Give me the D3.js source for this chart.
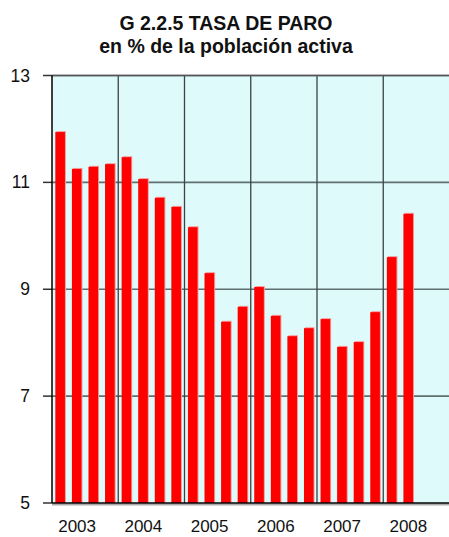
<!DOCTYPE html>
<html>
<head>
	<script src="https://cdn.jsdelivr.net/npm/d3@7"></script>
	<style>
		html, body {
			padding: 0;
			margin: 0;
			background: #fff;
		}
		text { font-family: Arial, "Liberation Sans", sans-serif; }
	</style>
</head>
<body>
	<script>
		var width = 449, height = 537;

		// quarterly unemployment rate, 2003Q1 .. 2008Q2
		var years = ['2003', '2004', '2005', '2006', '2007', '2008'];
		var quarters = ['I', 'II', 'III', 'IV'];
		var values = [11.96, 11.27, 11.31, 11.36,
			11.49, 11.08, 10.73, 10.56,
			10.18, 9.32, 8.41, 8.69,
			9.06, 8.52, 8.14, 8.29,
			8.46, 7.94, 8.03, 8.59,
			9.62, 10.43];
		var yTicks = [5, 7, 9, 11, 13];
		var titleLines = ['G 2.2.5 TASA DE PARO', 'en % de la población activa'];

		var slots = [];
		years.forEach(function(yr) {
			quarters.forEach(function(q) { slots.push(yr + '-' + q); });
		});

		// plot area (note: "top" is reserved on window)
		var pLeft = 52, pRight = 449.5, pTop = 75.5, pBottom = 503;

		var svg = d3.select('body').append('svg')
			.attr('width', width)
			.attr('height', height);

		var x = d3.scaleBand().domain(slots).range([pLeft, pRight]).paddingInner(0.42).paddingOuter(0.2);
		var xYear = d3.scaleBand().domain(years).range([pLeft, pRight]);
		var y = d3.scaleLinear().domain([5, 13]).range([pBottom, pTop]);

		// plot background
		svg.append('rect')
			.attr('x', pLeft).attr('y', pTop)
			.attr('width', pRight - pLeft).attr('height', pBottom - pTop)
			.attr('fill', '#dffafb');

		// horizontal grid + tick marks
		svg.selectAll('.hgrid')
			.data(yTicks.filter(function(d) { return d > 5; }))
			.enter().append('line')
			.attr('x1', pLeft).attr('x2', pRight)
			.attr('y1', function(d) { return y(d); })
			.attr('y2', function(d) { return y(d); })
			.attr('stroke', '#5f6f6f')
			.attr('stroke-width', 1.6);

		svg.selectAll('.tick')
			.data(yTicks)
			.enter().append('line')
			.attr('x1', 43).attr('x2', pLeft)
			.attr('y1', function(d) { return y(d); })
			.attr('y2', function(d) { return y(d); })
			.attr('stroke', '#333')
			.attr('stroke-width', 1.5);

		// vertical year lines
		svg.selectAll('.vgrid')
			.data(years.slice(1))
			.enter().append('line')
			.attr('x1', function(d) { return xYear(d); })
			.attr('x2', function(d) { return xYear(d); })
			.attr('y1', pTop).attr('y2', pBottom)
			.attr('stroke', '#3a4444')
			.attr('stroke-width', 1.3);

		// bars
		var bars = svg.selectAll('.bar')
			.data(values)
			.enter().append('g');

		bars.append('rect')
			.attr('x', function(d, i) { return x(slots[i]) + 1; })
			.attr('y', function(d) { return y(d); })
			.attr('width', x.bandwidth())
			.attr('height', function(d) { return pBottom - y(d); })
			.attr('fill', '#f59a9a');

		bars.append('rect')
			.attr('x', function(d, i) { return x(slots[i]); })
			.attr('y', function(d) { return y(d) + 1; })
			.attr('width', x.bandwidth())
			.attr('height', function(d) { return pBottom - y(d) - 1; })
			.attr('fill', '#ff0000');

		// axes lines
		svg.append('line')
			.attr('x1', pLeft).attr('x2', pRight)
			.attr('y1', pBottom + 1.5).attr('y2', pBottom + 1.5)
			.attr('stroke', '#aaa').attr('stroke-width', 2);
		svg.append('line')
			.attr('x1', pLeft).attr('x2', pRight)
			.attr('y1', pBottom).attr('y2', pBottom)
			.attr('stroke', '#000').attr('stroke-width', 1.5);
		svg.append('line')
			.attr('x1', pLeft).attr('x2', pRight)
			.attr('y1', pTop).attr('y2', pTop)
			.attr('stroke', '#555').attr('stroke-width', 1.5);
		svg.append('line')
			.attr('x1', pLeft).attr('x2', pLeft)
			.attr('y1', pTop).attr('y2', pBottom)
			.attr('stroke', '#000').attr('stroke-width', 1.5);

		// y labels
		svg.selectAll('.ylab')
			.data(yTicks)
			.enter().append('text')
			.attr('x', 30)
			.attr('y', function(d) { return y(d) + 6; })
			.attr('text-anchor', 'end')
			.attr('font-size', 17.5)
			.attr('fill', '#111')
			.text(function(d) { return d; });

		// year labels
		svg.selectAll('.xlab')
			.data(years)
			.enter().append('text')
			.attr('x', function(d) { return xYear(d) + xYear.bandwidth() / 2 - 8; })
			.attr('y', 532)
			.attr('text-anchor', 'middle')
			.attr('font-size', 17)
			.attr('fill', '#111')
			.text(function(d) { return d; });

		// title
		svg.selectAll('.title')
			.data(titleLines)
			.enter().append('text')
			.attr('x', 226)
			.attr('y', function(d, i) { return 30 + i * 23; })
			.attr('text-anchor', 'middle')
			.attr('font-size', 19.5)
			.attr('font-weight', 'bold')
			.attr('fill', '#111')
			.text(function(d) { return d; });
	</script>
</body>
</html>
